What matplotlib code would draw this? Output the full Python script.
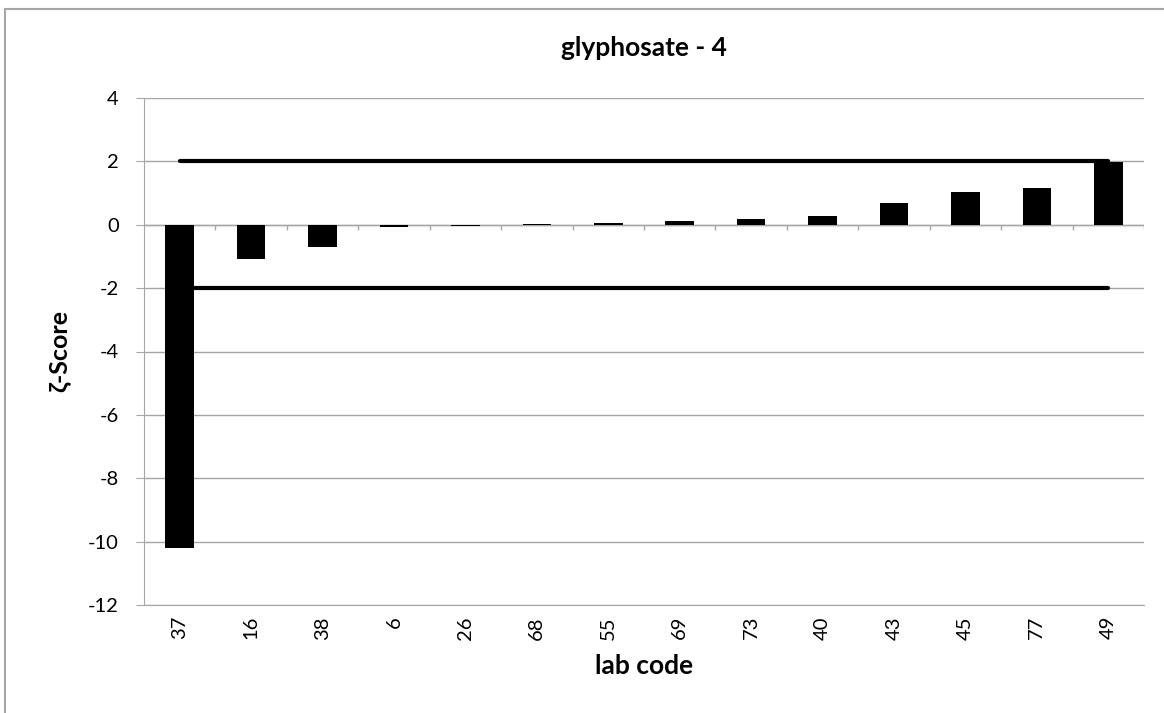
import numpy as np
import matplotlib.pyplot as plt
from matplotlib.lines import Line2D

plt.rcParams['font.family'] = ['Lato', 'DejaVu Sans']
plt.rcParams['axes.unicode_minus'] = False

# lab codes and zeta-scores
labs = ['37', '16', '38', '6', '26', '68', '55', '69', '73', '40', '43', '45', '77', '49']
scores = [-10.2, -1.07, -0.70, -0.08, -0.05, 0.03, 0.06, 0.12, 0.19, 0.27, 0.70, 1.03, 1.15, 1.97]
upper_limit = 2
lower_limit = -2

grey = '#a6a6a6'
x = np.arange(len(labs))

fig = plt.figure(figsize=(11.64, 7.13), dpi=100)
ax = fig.add_axes([144/1164, 1 - 605/713, 1000/1164, 507/713])

ax.set_xlim(-0.5, len(labs) - 0.5)
ax.set_ylim(-12, 4)
ax.set_yticks(np.arange(-12, 5, 2))
ax.grid(axis='y', color=grey, lw=1)
ax.set_axisbelow(True)

# limit lines from first to last lab
ax.plot([x[0], x[-1]], [upper_limit, upper_limit], color='black', lw=3, solid_capstyle='round', zorder=2)
ax.plot([x[0], x[-1]], [lower_limit, lower_limit], color='black', lw=3, solid_capstyle='round', zorder=2)
ax.bar(x, scores, width=0.4, color='black', zorder=3)

# category axis crosses at zero, ticks between categories
ax.axhline(0, color=grey, lw=1, zorder=1)
bounds = np.arange(len(labs) + 1) - 0.5
ax.vlines(bounds[1:], 0, -0.18, color=grey, lw=1, zorder=1)

for s in ['top', 'right']:
    ax.spines[s].set_visible(False)
ax.spines['left'].set_color(grey)
ax.spines['bottom'].set_color(grey)
ax.tick_params(axis='y', colors=grey, length=6, pad=12, labelcolor='black', labelsize=14.5)
ax.tick_params(axis='x', length=0, pad=8, labelsize=14.5)
ax.set_xticks(x)
ax.set_xticklabels(labs, rotation=90)

ax.set_title('glyphosate - 4', fontsize=19, fontweight='bold', pad=30)
ax.set_xlabel('lab code', fontsize=19, fontweight='bold', labelpad=10)
ax.set_ylabel('ζ-Score', fontsize=18, fontweight='bold', labelpad=13)

# chart area border (top and left edges visible)
fig.add_artist(Line2D([5/1164, 5/1164], [0, 1 - 9/713], color=grey, lw=1.5))
fig.add_artist(Line2D([5/1164, 1], [1 - 9/713, 1 - 9/713], color=grey, lw=1.5))

fig.savefig('out.png', dpi=100)
